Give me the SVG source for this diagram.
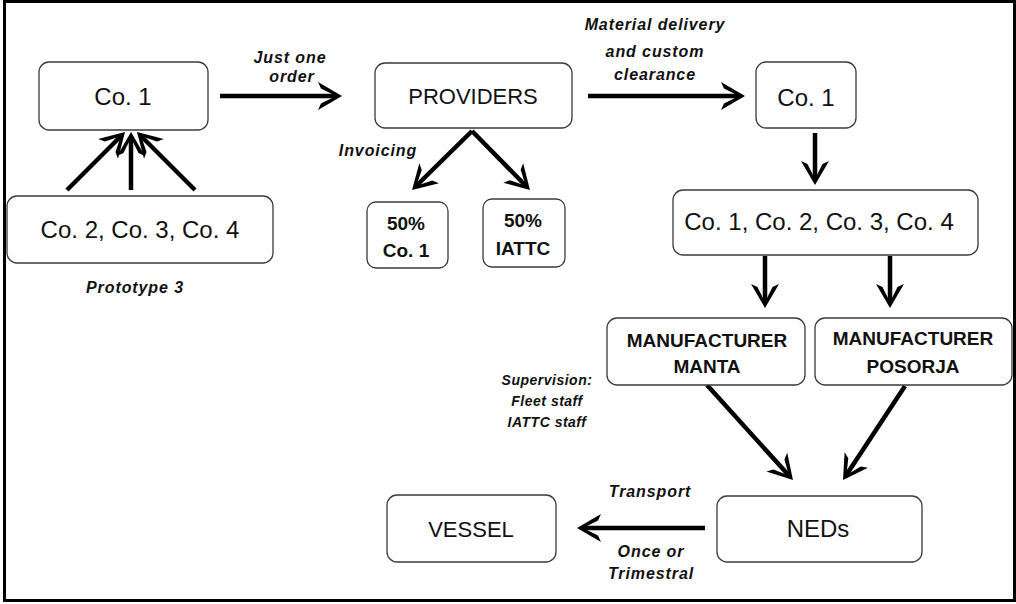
<svg xmlns="http://www.w3.org/2000/svg" width="1016" height="604" viewBox="0 0 1016 604">
<style>
.box{fill:#fff;stroke:#3a3a3a;stroke-width:1.3}
.t{font-family:"Liberation Sans",Arial,sans-serif;fill:#111;text-anchor:middle}
.n{font-size:24px}
.nb{font-size:19px;font-weight:bold}
.lab{font-size:16px;font-weight:bold;font-style:italic;letter-spacing:0.9px}
.sup{font-size:14px;font-weight:bold;font-style:italic;letter-spacing:0.5px}
.arr{stroke:#000;stroke-width:4.5;fill:none;marker-end:url(#ah)}
</style>
<defs>
<marker id="ah" markerUnits="userSpaceOnUse" viewBox="-21 -15 27 30" refX="0" refY="0" markerWidth="27" markerHeight="30" orient="auto">
<path d="M5,0 L-19,-14 L-16,-7.5 L-1,0 L-16,7.5 L-19,14 Z" fill="#000"/>
</marker>
</defs>
<rect x="4.5" y="1.5" width="1010" height="599" fill="#fff" stroke="#000" stroke-width="3"/>

<g id="connectors">
<line class="arr" x1="220" y1="96" x2="337" y2="96"/>
<line class="arr" x1="588" y1="96" x2="740" y2="96"/>
<line class="arr" x1="67" y1="190" x2="121.5" y2="135.5"/>
<line class="arr" x1="131" y1="190" x2="131" y2="137"/>
<line class="arr" x1="195" y1="190" x2="140.5" y2="135.5"/>
<line class="arr" x1="472" y1="131" x2="415.6" y2="186.5"/>
<line class="arr" x1="472" y1="131" x2="526.5" y2="186.5"/>
<line class="arr" x1="815" y1="133" x2="815" y2="180"/>
<line class="arr" x1="765" y1="256" x2="765" y2="303"/>
<line class="arr" x1="890" y1="256" x2="890" y2="303"/>
<line class="arr" x1="707" y1="385" x2="789.6" y2="476.3"/>
<line class="arr" x1="905" y1="386" x2="845.8" y2="475.8"/>
<line class="arr" x1="705" y1="528" x2="582" y2="528"/>
</g>

<g id="labels">
<text class="t lab" x="290" y="63">Just one</text>
<text class="t lab" x="292" y="82">order</text>
<text class="t lab" x="378" y="156">Invoicing</text>
<text class="t lab" x="655" y="30">Material delivery</text>
<text class="t lab" x="655" y="57">and custom</text>
<text class="t lab" x="655" y="80">clearance</text>
<text class="t lab" x="135" y="293">Prototype 3</text>
<text class="t sup" x="547" y="385">Supervision:</text>
<text class="t sup" x="547" y="406">Fleet staff</text>
<text class="t sup" x="547" y="427">IATTC staff</text>
<text class="t lab" x="650" y="497">Transport</text>
<text class="t lab" x="651" y="557">Once or</text>
<text class="t lab" x="651" y="579">Trimestral</text>
</g>

<g id="co1-left">
<rect class="box" x="39" y="62" width="169" height="68" rx="10"/>
<text class="t n" x="123" y="105">Co. 1</text>
</g>
<g id="co234">
<rect class="box" x="7" y="196" width="266" height="67" rx="10"/>
<text class="t n" x="140" y="238">Co. 2, Co. 3, Co. 4</text>
</g>
<g id="providers">
<rect class="box" x="375" y="63" width="197" height="65" rx="10"/>
<text class="t n" x="473" y="104" style="font-size:22px">PROVIDERS</text>
</g>
<g id="pct-co1">
<rect class="box" x="367" y="202" width="81" height="66" rx="9"/>
<text class="t nb" x="406" y="230">50%</text>
<text class="t nb" x="406" y="257">Co. 1</text>
</g>
<g id="pct-iattc">
<rect class="box" x="483" y="199" width="82" height="68" rx="9"/>
<text class="t nb" x="523" y="227">50%</text>
<text class="t nb" x="523" y="255">IATTC</text>
</g>
<g id="co1-right">
<rect class="box" x="756" y="62" width="100" height="66" rx="10"/>
<text class="t n" x="806" y="106">Co. 1</text>
</g>
<g id="co1234">
<rect class="box" x="673" y="190" width="305" height="65" rx="10"/>
<text class="t n" x="819" y="230">Co. 1, Co. 2, Co. 3, Co. 4</text>
</g>
<g id="manta">
<rect class="box" x="607" y="318" width="198" height="67" rx="10"/>
<text class="t nb" x="707" y="347">MANUFACTURER</text>
<text class="t nb" x="707" y="373">MANTA</text>
</g>
<g id="posorja">
<rect class="box" x="815" y="318" width="197" height="67" rx="10"/>
<text class="t nb" x="913" y="345">MANUFACTURER</text>
<text class="t nb" x="913" y="373">POSORJA</text>
</g>
<g id="neds">
<rect class="box" x="717" y="496" width="205" height="66" rx="10"/>
<text class="t n" x="818" y="537">NEDs</text>
</g>
<g id="vessel">
<rect class="box" x="387" y="495" width="169" height="67" rx="10"/>
<text class="t n" x="471" y="537" style="font-size:22px">VESSEL</text>
</g>
</svg>
